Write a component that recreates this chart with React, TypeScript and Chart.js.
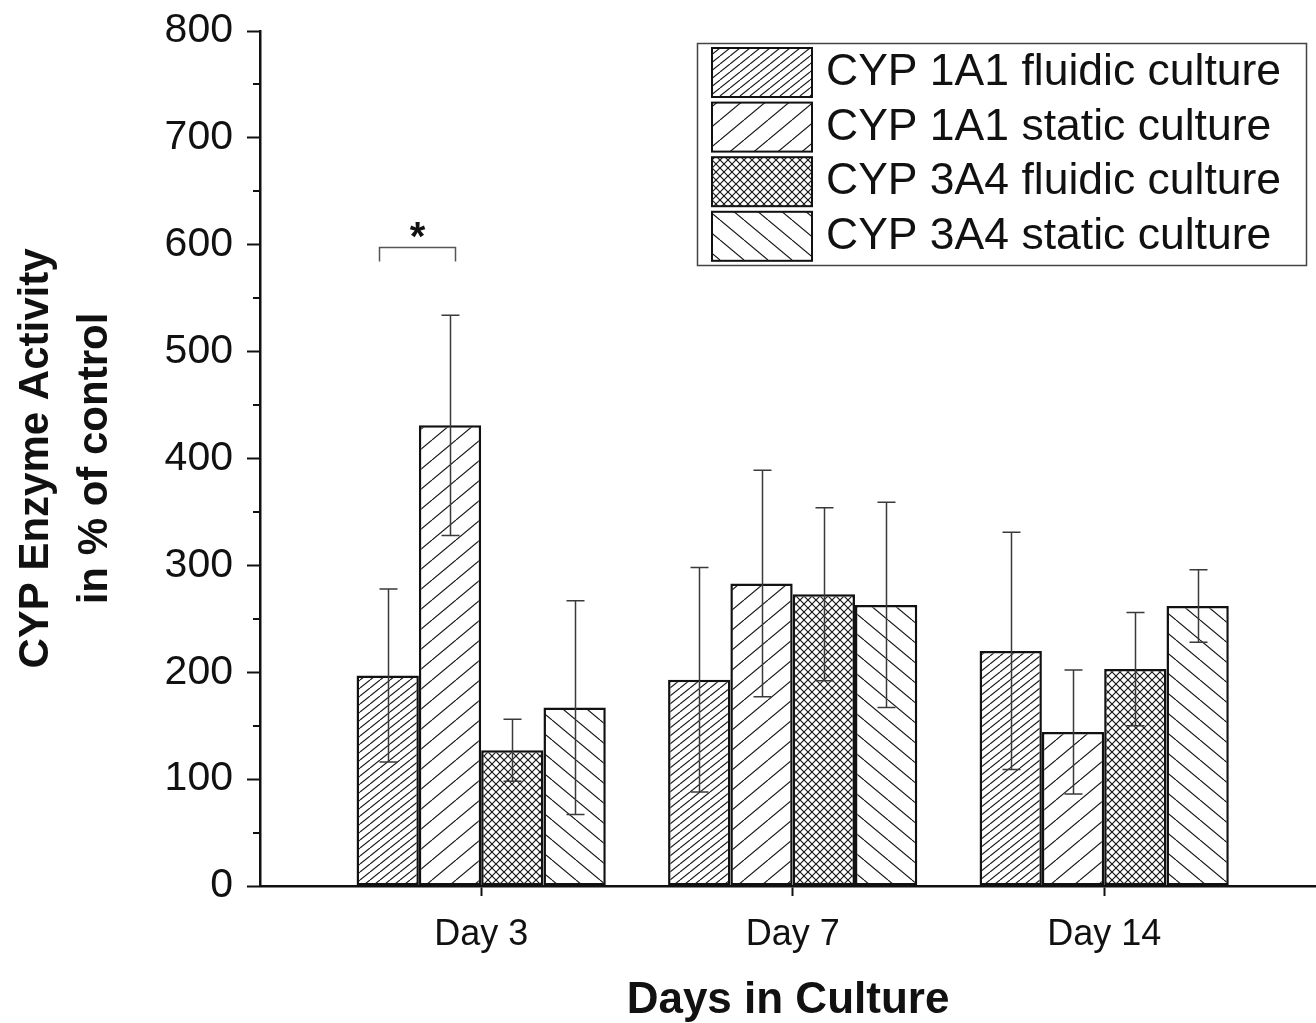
import React, { useEffect, useRef } from "react";
import { Chart, registerables } from "chart.js";

Chart.register(...registerables);

// ---------- data ----------
const dayLabels = ["Day 3", "Day 7", "Day 14"];
const dayIndex = [0, 1, 2];
const seriesNames = [
  "CYP 1A1 fluidic culture",
  "CYP 1A1 static culture",
  "CYP 3A4 fluidic culture",
  "CYP 3A4 static culture",
];
const cyp1a1Fluidic = [197, 193, 220];
const cyp1a1Static = [431, 283, 144];
const cyp3a4Fluidic = [127, 273, 203];
const cyp3a4Static = [167, 263, 262];
const err1a1Fluidic = [81, 105, 111];
const err1a1Static = [103, 106, 58];
const err3a4Fluidic = [29, 81, 53];
const err3a4Static = [100, 96, 34];
// significance bracket: day group, the two series compared, level, mark
const sigGroup = [0];
const sigSeriesA = [0];
const sigSeriesB = [1];
const sigLevel = [598];
const sigMark = ["*"];

const seriesValues = [cyp1a1Fluidic, cyp1a1Static, cyp3a4Fluidic, cyp3a4Static];
const seriesErrors = [err1a1Fluidic, err1a1Static, err3a4Fluidic, err3a4Static];
const patternKinds = ["denseSlash", "sparseSlash", "cross", "sparseBack"];

const FONT = "'Liberation Sans', Arial, sans-serif";

function makePattern(kind: string): CanvasPattern | string {
  const dims: Record<string, [number, number]> = {
    denseSlash: [10, 8],
    sparseSlash: [24, 20],
    cross: [8, 8],
    sparseBack: [24, 20],
  };
  const [W, H] = dims[kind];
  const c = document.createElement("canvas");
  c.width = W;
  c.height = H;
  const g = c.getContext("2d");
  if (!g) return "#fff";
  g.fillStyle = "#fff";
  g.fillRect(0, 0, W, H);
  g.strokeStyle = "#1a1a1a";
  g.lineWidth = 1.2;
  const slash = () => {
    for (const dx of [-W, 0, W]) {
      g.beginPath();
      g.moveTo(dx, H);
      g.lineTo(dx + W, 0);
      g.stroke();
    }
  };
  const back = () => {
    for (const dx of [-W, 0, W]) {
      g.beginPath();
      g.moveTo(dx, 0);
      g.lineTo(dx + W, H);
      g.stroke();
    }
  };
  if (kind === "denseSlash" || kind === "sparseSlash") slash();
  else if (kind === "sparseBack") back();
  else {
    slash();
    back();
  }
  const p = g.createPattern(c, "repeat");
  return p || "#fff";
}

const overlayPlugin = {
  id: "overlay",
  afterDatasetsDraw(chart: any) {
    const ctx = chart.ctx as CanvasRenderingContext2D;
    const ys = chart.scales.y;
    ctx.save();
    ctx.strokeStyle = "#3a3a3a";
    ctx.lineWidth = 1.5;
    seriesValues.forEach((vals, i) => {
      const meta = chart.getDatasetMeta(i);
      meta.data.forEach((bar: any, j: number) => {
        const v = vals[j];
        const e = seriesErrors[i][j];
        const top = ys.getPixelForValue(v + e);
        const bot = ys.getPixelForValue(v - e);
        const x = Math.round(bar.x) + 0.5;
        ctx.beginPath();
        ctx.moveTo(x, top);
        ctx.lineTo(x, bot);
        ctx.moveTo(x - 9, top);
        ctx.lineTo(x + 9, top);
        ctx.moveTo(x - 9, bot);
        ctx.lineTo(x + 9, bot);
        ctx.stroke();
      });
    });
    ctx.restore();
  },
  afterDraw(chart: any) {
    const ctx = chart.ctx as CanvasRenderingContext2D;
    const ys = chart.scales.y;
    const area = chart.chartArea;
    ctx.save();
    // minor ticks on y axis
    ctx.strokeStyle = "#111";
    ctx.lineWidth = 2;
    const t = ys.ticks;
    for (let k = 0; k < t.length - 1; k++) {
      const mid = (t[k].value + t[k + 1].value) / 2;
      const py = Math.round(ys.getPixelForValue(mid));
      ctx.beginPath();
      ctx.moveTo(area.left - 7, py);
      ctx.lineTo(area.left, py);
      ctx.stroke();
    }
    // significance brackets
    sigGroup.forEach((gIdx, s) => {
      const a = chart.getDatasetMeta(sigSeriesA[s]).data[gIdx];
      const b = chart.getDatasetMeta(sigSeriesB[s]).data[gIdx];
      const xL = Math.round(a.x - 0.14 * a.width) + 0.5;
      const xR = Math.round(b.x + 0.08 * b.width) + 0.5;
      const yb = Math.round(ys.getPixelForValue(sigLevel[s])) + 0.5;
      ctx.strokeStyle = "#555";
      ctx.lineWidth = 1.5;
      ctx.beginPath();
      ctx.moveTo(xL, yb + 14);
      ctx.lineTo(xL, yb);
      ctx.lineTo(xR, yb);
      ctx.lineTo(xR, yb + 14);
      ctx.stroke();
      ctx.fillStyle = "#111";
      ctx.font = `bold 40px ${FONT}`;
      ctx.textAlign = "center";
      ctx.textBaseline = "alphabetic";
      ctx.fillText(sigMark[s], (xL + xR) / 2, yb + 2);
    });
    // legend
    const boxL = 697.5, boxT = 43.5, boxW = 609, boxH = 222;
    ctx.fillStyle = "#fff";
    ctx.fillRect(boxL, boxT, boxW, boxH);
    ctx.strokeStyle = "#444";
    ctx.lineWidth = 1.5;
    ctx.strokeRect(boxL, boxT, boxW, boxH);
    chart.data.datasets.forEach((ds: any, i: number) => {
      const top = 48 + i * 54.6;
      ctx.fillStyle = ds.backgroundColor;
      ctx.fillRect(712, top, 100, 49);
      ctx.strokeStyle = "#111";
      ctx.lineWidth = 2;
      ctx.strokeRect(712, top, 100, 49);
      ctx.fillStyle = "#111";
      ctx.font = `44.5px ${FONT}`;
      ctx.textAlign = "left";
      ctx.textBaseline = "middle";
      ctx.fillText(ds.label, 826, top + 25);
    });
    ctx.restore();
  },
};

export default function App() {
  const ref = useRef<HTMLCanvasElement | null>(null);
  useEffect(() => {
    if (!ref.current) return;
    const datasets = seriesNames.map((name, i) => ({
      label: name,
      data: dayIndex.map((d, j) => ({ x: d, y: seriesValues[i][j] })),
      backgroundColor: makePattern(patternKinds[i]) as any,
      borderColor: "#111",
      borderWidth: 2.5,
      borderSkipped: false as any,
      categoryPercentage: 0.8,
      barPercentage: 1.0,
    }));
    const chart = new Chart(ref.current, {
      type: "bar",
      data: { datasets },
      options: {
        animation: false,
        responsive: false,
        devicePixelRatio: 1,
        layout: { padding: { top: 31, right: 0, left: 0, bottom: 0 } },
        plugins: { legend: { display: false }, tooltip: { enabled: false } },
        scales: {
          x: {
            type: "linear",
            min: -0.71,
            max: 2.68,
            offset: false,
            afterBuildTicks: (scale: any) => {
              scale.ticks = dayIndex.map((v) => ({ value: v }));
            },
            afterFit: (scale: any) => {
              scale.height = 137;
              scale.paddingLeft = 0;
              scale.paddingRight = 0;
            },
            ticks: {
              autoSkip: false,
              maxRotation: 0,
              color: "#111",
              padding: 17,
              font: { family: FONT, size: 36 },
              callback: (v: any) => dayLabels[v] ?? "",
            },
            grid: {
              offset: false,
              drawOnChartArea: false,
              drawTicks: true,
              tickLength: 10,
              tickWidth: 2,
              tickColor: "#111",
            },
            border: { display: true, color: "#111", width: 2.5 },
            title: {
              display: true,
              text: "Days in Culture",
              color: "#111",
              font: { family: FONT, size: 44, weight: "bold", lineHeight: 1 },
              padding: { top: 0, bottom: 0 },
            },
          },
          y: {
            min: 0,
            max: 800,
            afterFit: (scale: any) => {
              scale.width = 260;
              scale.paddingTop = 0;
              scale.paddingBottom = 0;
            },
            ticks: {
              stepSize: 100,
              color: "#111",
              padding: 14,
              font: { family: FONT, size: 41 },
            },
            grid: {
              drawOnChartArea: false,
              drawTicks: true,
              tickLength: 13,
              tickWidth: 2,
              tickColor: "#111",
            },
            border: { display: true, color: "#111", width: 2.5 },
            title: {
              display: true,
              text: ["CYP Enzyme Activity", "in % of control"],
              color: "#111",
              font: { family: FONT, size: 42, weight: "bold", lineHeight: 1.4 },
              padding: { top: 7, bottom: 0 },
            },
          },
        },
      },
      plugins: [overlayPlugin],
    } as any);
    return () => chart.destroy();
  }, []);
  return (
    <div style={{ position: "absolute", left: 0, top: 0, width: 1316, height: 1023, background: "#fff", overflow: "hidden" }}>
      <canvas ref={ref} width={1316} height={1023} style={{ display: "block" }} />
    </div>
  );
}
